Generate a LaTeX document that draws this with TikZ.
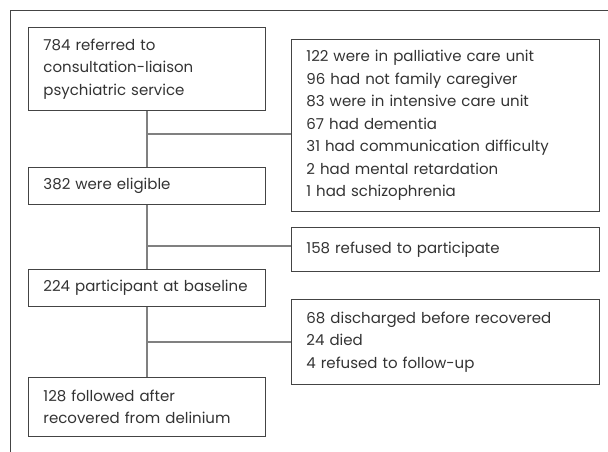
\documentclass[tikz,border=0pt]{standalone}
\usepackage{fontspec}
\setmainfont{Poppins}
\usetikzlibrary{positioning}
\definecolor{boxline}{HTML}{444444}
\definecolor{linkgray}{HTML}{808080}
\definecolor{textgray}{HTML}{333333}
\tikzset{
  stage/.style={draw=boxline, line width=0.9pt, anchor=north west, align=left,
    inner xsep=15pt, inner ysep=0pt, minimum width=237pt, text width=207pt,
    text=textgray, font=\fontsize{15}{22.5}\selectfont},
  excluded/.style={stage, minimum width=308pt, text width=278pt},
  link/.style={draw=linkgray, line width=1.1pt},
  frame/.style={draw=boxline, line width=0.9pt},
}

\begin{document}
\begin{tikzpicture}[x=1pt,y=-1pt]
  \useasboundingbox (0,0) rectangle (608,452);
  \draw[frame] (10,452) -- (10,10) -- (608,10);

  \node[stage, minimum height=83pt] (referred) at (28,27)
    {784 referred to\\consultation-liaison\\psychiatric service};
  \node[stage, minimum height=37pt] (eligible) at (28,167) {382 were eligible};
  \node[stage, minimum height=37pt] (baseline) at (28,269) {224~participant~at~baseline};
  \node[stage, minimum height=59pt] (followed) at (28,377)
    {128 followed after\\recovered from delinium};

  \node[excluded, minimum height=172pt] (noteligible) at (291,39)
    {122 were in palliative care unit\\96 had not family caregiver\\83 were in intensive care unit\\67 had dementia\\31 had communication difficulty\\2 had mental retardation\\1 had schizophrenia};
  \node[excluded, minimum height=44pt] (refused) at (291,227) {158 refused to participate};
  \node[excluded, minimum height=85pt] (lost) at (291,299)
    {68 discharged before recovered\\24 died\\4 refused to follow-up};

  \coordinate (split1) at (referred.south |- 0,134);
  \coordinate (split2) at (referred.south |- 0,246);
  \coordinate (split3) at (referred.south |- 0,342);

  \draw[link] (referred.south) -- (eligible.north);
  \draw[link] (eligible.south) -- (baseline.north);
  \draw[link] (baseline.south) -- (followed.north);
  \draw[link] (split1) -- (split1 -| noteligible.west);
  \draw[link] (split2) -- (split2 -| refused.west);
  \draw[link] (split3) -- (split3 -| lost.west);
\end{tikzpicture}
\end{document}
